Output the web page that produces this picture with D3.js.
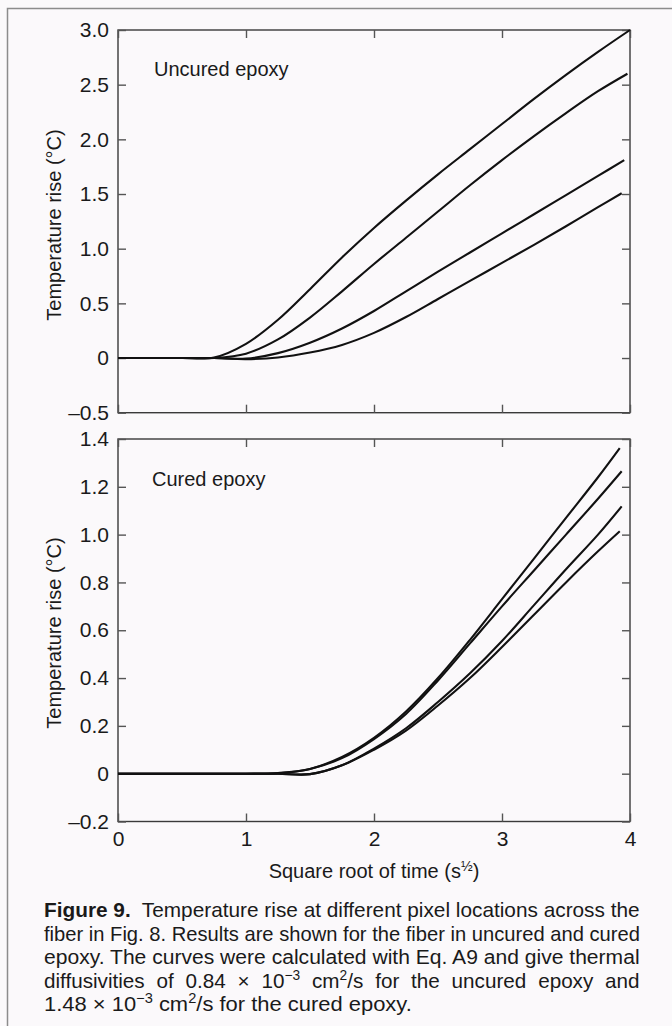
<!DOCTYPE html>
<html>
<head>
<meta charset="utf-8">
<script src="https://cdn.jsdelivr.net/npm/d3@7"></script>
<style>
  html, body { margin: 0; padding: 0; background: #fbf9fb; }
  svg { display: block; font-family: "Liberation Sans", Arial, Helvetica, sans-serif; }
</style>
</head>
<body>
<svg id="fig" width="672" height="1026"></svg>
<script>
// common x grid: square root of time (s^1/2)
const sqrtTime = [0, 0.25, 0.5, 0.75, 1.0, 1.25, 1.5, 1.75, 2.0, 2.25, 2.5, 2.75, 3.0, 3.25, 3.5, 3.75];

// uncured epoxy, temperature rise (degC) on the grid above
const uncured1 = [0, 0, 0, 0.005, 0.13, 0.35, 0.63, 0.92, 1.19, 1.44, 1.68, 1.91, 2.14, 2.37, 2.59, 2.80];
const uncured2 = [0, 0, 0, 0, 0.04, 0.17, 0.37, 0.61, 0.86, 1.10, 1.34, 1.58, 1.81, 2.03, 2.24, 2.44];
const uncured3 = [0, 0, 0, 0, -0.005, 0.045, 0.14, 0.27, 0.43, 0.61, 0.79, 0.965, 1.14, 1.315, 1.49, 1.665];
const uncured4 = [0, 0, 0, 0, -0.01, 0.005, 0.05, 0.12, 0.23, 0.375, 0.54, 0.705, 0.87, 1.035, 1.205, 1.38];
const uncuredEndX = [4.0, 3.98, 3.955, 3.935];
const uncuredEndY = [3.0, 2.60, 1.81, 1.507];

// cured epoxy
const cured1 = [0, 0, 0, 0, 0, 0.003, 0.02, 0.07, 0.15, 0.26, 0.40, 0.56, 0.73, 0.90, 1.07, 1.24];
const cured2 = [0, 0, 0, 0, 0, 0.002, 0.02, 0.065, 0.145, 0.25, 0.39, 0.545, 0.70, 0.85, 1.0, 1.15];
const cured3 = [0, 0, 0, 0, 0, 0, -0.002, 0.035, 0.105, 0.19, 0.30, 0.42, 0.555, 0.705, 0.855, 1.0];
const cured4 = [0, 0, 0, 0, 0, 0, -0.002, 0.035, 0.10, 0.18, 0.285, 0.40, 0.53, 0.665, 0.80, 0.93];
const curedEndX = [3.92, 3.935, 3.935, 3.92];
const curedEndY = [1.362, 1.265, 1.118, 1.014];

// ticks
const xTicks = [0, 1, 2, 3, 4];
const xTickLabels = ['0', '1', '2', '3', '4'];
const uncuredTicks = [-0.5, 0, 0.5, 1.0, 1.5, 2.0, 2.5, 3.0];
const uncuredTickLabels = ['\u20130.5', '0', '0.5', '1.0', '1.5', '2.0', '2.5', '3.0'];
const curedTicks = [-0.2, 0, 0.2, 0.4, 0.6, 0.8, 1.0, 1.2, 1.4];
const curedTickLabels = ['\u20130.2', '0', '0.2', '0.4', '0.6', '0.8', '1.0', '1.2', '1.4'];


class PanelChart {

    /**
     * one framed panel with 4 curves
     * @param {Object}
     * @param {Array}
     */
    constructor(_config, _data) {
        this.config = {
            parentElement: _config.parentElement,
            left: 118,
            right: 630,
            top: _config.top,
            bottom: _config.bottom,
            yDomain: _config.yDomain,
            yTicks: _config.yTicks,
            yTickLabels: _config.yTickLabels,
            title: _config.title,
            titleX: _config.titleX,
            titleY: _config.titleY,
            labelY: _config.labelY,
            showXLabels: _config.showXLabels
        }
        this.data = _data;
        this.initVis();
    }

    initVis() {
        let vis = this;
        let c = vis.config;

        vis.svg = d3.select(c.parentElement);
        vis.g = vis.svg.append('g');

        vis.xScale = d3.scaleLinear().domain([0, 4]).range([c.left, c.right]);
        vis.yScale = d3.scaleLinear().domain(c.yDomain).range([c.bottom, c.top]);

        // inward ticks on all four sides, labels only on the left (and under the lower panel)
        vis.yAxisLeft = d3.axisLeft(vis.yScale)
            .tickValues(c.yTicks)
            .tickSizeInner(-8).tickSizeOuter(0).tickPadding(9)
            .tickFormat((d, i) => c.yTickLabels[i]);
        vis.yAxisRight = d3.axisRight(vis.yScale)
            .tickValues(c.yTicks).tickSizeInner(-8).tickSizeOuter(0).tickFormat('');
        vis.xAxisTop = d3.axisTop(vis.xScale)
            .tickValues(xTicks).tickSizeInner(-8).tickSizeOuter(0).tickFormat('');
        vis.xAxisBottom = d3.axisBottom(vis.xScale)
            .tickValues(xTicks).tickSizeInner(-8).tickSizeOuter(0).tickPadding(10)
            .tickFormat((d, i) => c.showXLabels ? xTickLabels[i] : '');

        vis.line = d3.line()
            .x(d => vis.xScale(d.x))
            .y(d => vis.yScale(d.y))
            .curve(d3.curveCatmullRom.alpha(0.5));
    }

    renderVis() {
        let vis = this;
        let c = vis.config;

        vis.g.append('rect')
            .attr('x', c.left).attr('y', c.top)
            .attr('width', c.right - c.left).attr('height', c.bottom - c.top)
            .attr('fill', 'none')
            .attr('stroke', '#3a3a3a')
            .attr('stroke-width', 1.4);

        const axes = [
            [vis.yAxisLeft, `translate(${c.left},0)`],
            [vis.yAxisRight, `translate(${c.right},0)`],
            [vis.xAxisTop, `translate(0,${c.top})`],
            [vis.xAxisBottom, `translate(0,${c.bottom})`]
        ];
        axes.forEach(([ax, tr]) => {
            const a = vis.g.append('g').attr('transform', tr).call(ax);
            a.attr('font-size', 21).attr('font-family', '"Liberation Sans", Arial, sans-serif');
            a.select('.domain').remove();
            a.selectAll('line').attr('stroke', '#555').attr('stroke-width', 1.4);
            a.selectAll('text').attr('fill', '#1a1a1a');
        });

        vis.g.selectAll('.curve')
            .data(vis.data)
            .join('path')
            .attr('class', 'curve')
            .attr('d', d => vis.line(d))
            .attr('fill', 'none')
            .attr('stroke', '#111')
            .attr('stroke-width', 2.1);

        vis.g.append('text')
            .attr('x', c.titleX).attr('y', c.titleY)
            .attr('fill', '#1a1a1a')
            .style('font-size', '20px')
            .text(c.title);

        // y axis title
        vis.g.append('text')
            .attr('transform', `translate(61,${c.labelY}) rotate(-90)`)
            .attr('text-anchor', 'middle')
            .attr('fill', '#1a1a1a')
            .style('font-size', '20px')
            .text('Temperature rise (\u00B0C)');
    }
}

function toSeries(vals, endX, endY) {
    return sqrtTime.map((t, i) => ({ x: t, y: vals[i] })).concat([{ x: endX, y: endY }]);
}

const svg = d3.select('#fig');

// page border (left + top)
svg.append('path')
    .attr('d', 'M7.5,1026 V8.5 H672')
    .attr('fill', 'none')
    .attr('stroke', '#8c8c8c')
    .attr('stroke-width', 1.5);

const uncuredData = [uncured1, uncured2, uncured3, uncured4]
    .map((v, i) => toSeries(v, uncuredEndX[i], uncuredEndY[i]));
const curedData = [cured1, cured2, cured3, cured4]
    .map((v, i) => toSeries(v, curedEndX[i], curedEndY[i]));

const topChart = new PanelChart({
    parentElement: '#fig',
    top: 30, bottom: 412.7,
    yDomain: [-0.5, 3.0],
    yTicks: uncuredTicks, yTickLabels: uncuredTickLabels,
    title: 'Uncured epoxy', titleX: 154, titleY: 76,
    labelY: 225,
    showXLabels: false
}, uncuredData);
topChart.renderVis();

const bottomChart = new PanelChart({
    parentElement: '#fig',
    top: 439, bottom: 821.5,
    yDomain: [-0.2, 1.4],
    yTicks: curedTicks, yTickLabels: curedTickLabels,
    title: 'Cured epoxy', titleX: 152, titleY: 486,
    labelY: 633,
    showXLabels: true
}, curedData);
bottomChart.renderVis();

// x axis title
const xl = svg.append('text')
    .attr('x', 374).attr('y', 877.5)
    .attr('text-anchor', 'middle')
    .attr('fill', '#1a1a1a')
    .style('font-size', '20px');
xl.append('tspan').text('Square root of time (s');
xl.append('tspan').attr('dy', -7).style('font-size', '14px').text('\u00BD');
xl.append('tspan').attr('dy', 7).text(')');

// caption
const capX = 44, capW = 596, lastW = 368;
const capBase = [917, 941, 964.5, 988, 1011.5];
const captionLines = [
    [{ t: 'Figure 9.', b: true }, { t: '\u00A0 Temperature rise at different pixel locations across the' }],
    [{ t: 'fiber in Fig. 8. Results are shown for the fiber in uncured and cured' }],
    [{ t: 'epoxy. The curves were calculated with Eq. A9 and give thermal' }],
    [{ t: 'diffusivities of 0.84 \u00D7 10' }, { t: '\u22123', sup: true }, { t: ' cm' }, { t: '2', sup: true }, { t: '/s for the uncured epoxy and' }],
    [{ t: '1.48 \u00D7 10' }, { t: '\u22123', sup: true }, { t: ' cm' }, { t: '2', sup: true }, { t: '/s for the cured epoxy.' }]
];

const capTexts = captionLines.map((line, i) => {
    const t = svg.append('text')
        .attr('x', capX).attr('y', capBase[i])
        .attr('fill', '#1a1a1a')
        .style('font-size', '21px');
    let up = false;
    line.forEach(seg => {
        const ts = t.append('tspan').text(seg.t);
        if (seg.b) ts.style('font-weight', 'bold');
        if (seg.sup) { ts.attr('dy', -8).style('font-size', '14px'); up = true; }
        else if (up) { ts.attr('dy', 8); up = false; }
    });
    return t;
});

// squeeze lines 1-3 to the column width, justify line 4 with word spacing, last line to its own width
const widths = capTexts.map(t => t.node().getComputedTextLength());
const scales = widths.slice(0, 3).map(w => capW / w);
const sAvg = d3.mean(scales);
capTexts.forEach((t, i) => {
    let s = i < 3 ? scales[i] : (i === 4 ? lastW / widths[i] : sAvg);
    if (i === 3) {
        const nSp = (t.text().match(/ /g) || []).length;
        const extra = (capW / s - widths[i]) / nSp;
        t.style('word-spacing', extra + 'px');
    }
    t.attr('transform', `translate(${capX},0) scale(${s},1) translate(${-capX},0)`);
});
</script>
</body>
</html>
